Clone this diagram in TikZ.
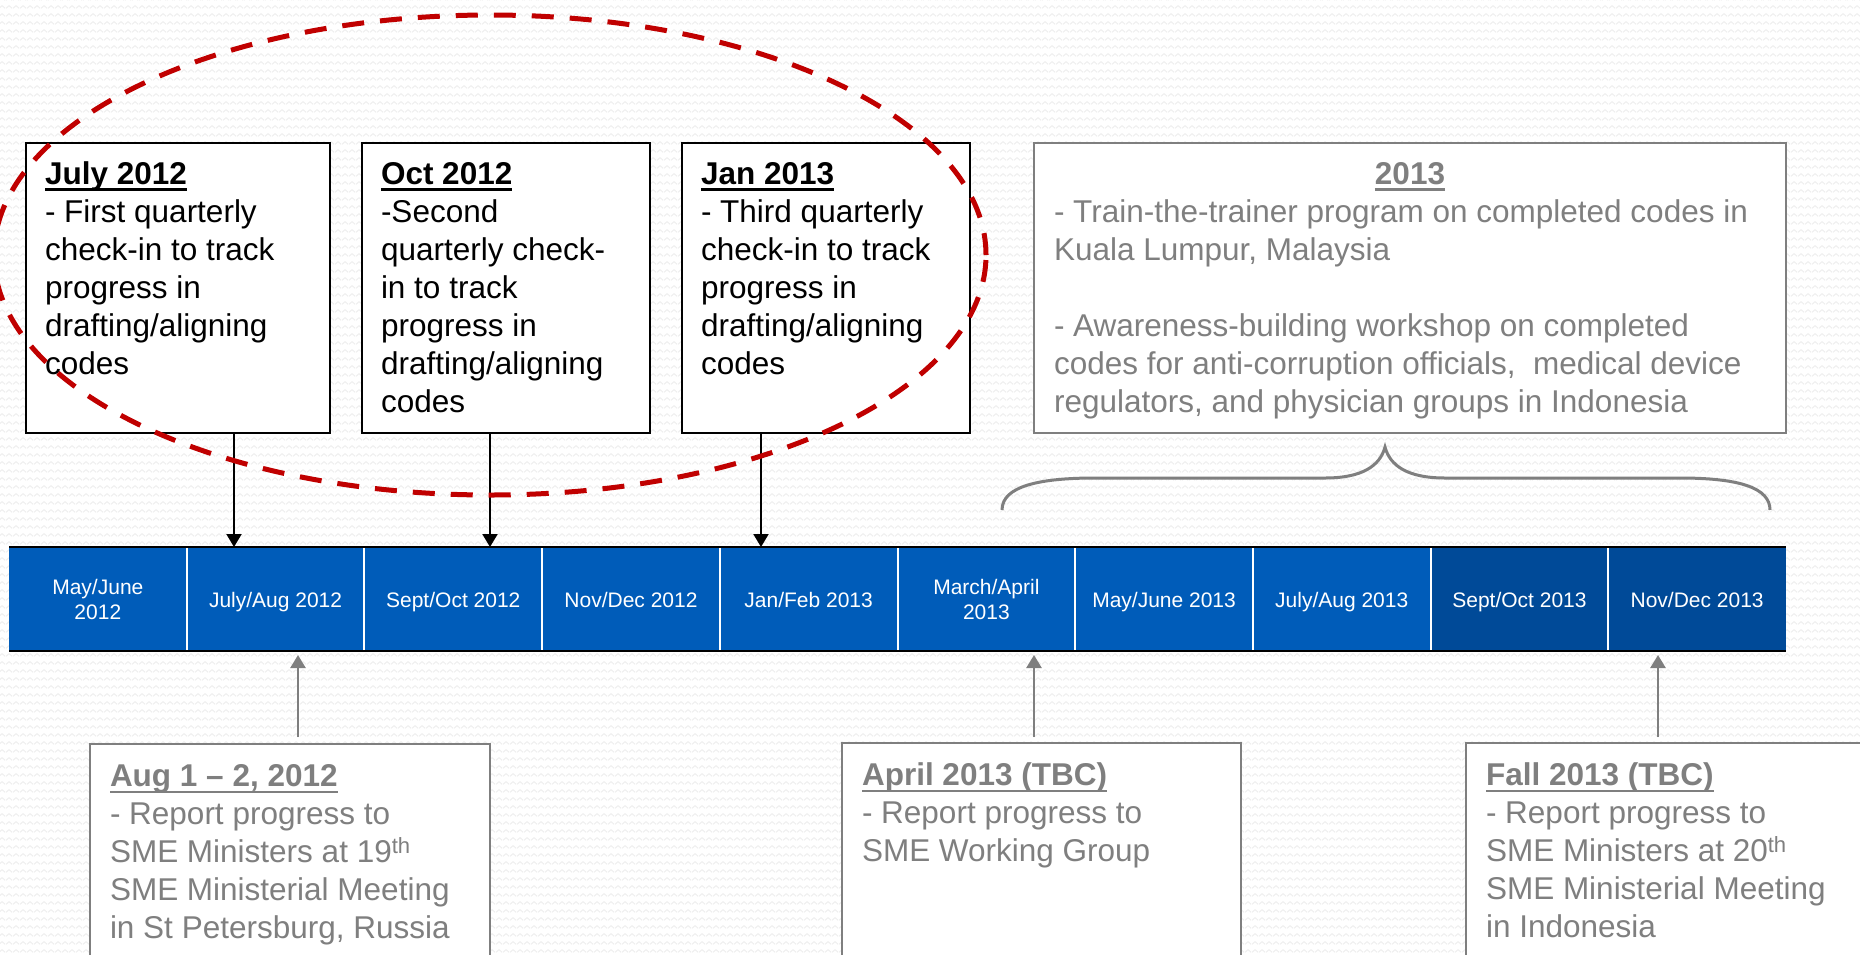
\documentclass[tikz,border=0pt]{standalone}
\usepackage{fontspec}
\setmainfont{Liberation Sans}
\usetikzlibrary{arrows.meta,patterns}
\definecolor{cellblue}{HTML}{005CB9}
\definecolor{celldark}{HTML}{004A98}
\definecolor{txtgray}{HTML}{7F7F7F}
\definecolor{ellred}{HTML}{C00000}
\definecolor{bgline}{HTML}{ECECEC}
\newcommand\myul[1]{\setbox0\hbox{#1}\leavevmode\rlap{\rule[-6.5pt]{\wd0}{2.5pt}}\box0}
\newcommand\tbx[3]{\parbox[t][#1pt][t]{#2pt}{\raggedright\strut #3}}
\pgfdeclarepatternformonly{bgwave}{\pgfpointorigin}{\pgfqpoint{7pt}{8pt}}{\pgfqpoint{7pt}{8pt}}{%
  \pgfsetlinewidth{0.9pt}%
  \pgfpathmoveto{\pgfqpoint{0pt}{3pt}}%
  \pgfpathlineto{\pgfqpoint{3.5pt}{6pt}}%
  \pgfpathlineto{\pgfqpoint{7pt}{3pt}}%
  \pgfusepath{stroke}}
\begin{document}
\begin{tikzpicture}[x=1pt,y=-1pt,
  topbox/.style={draw=black, line width=2pt, fill=white, inner xsep=19pt, inner ysep=14.4pt,
    anchor=north west, outer sep=0pt, font=\fontsize{31.5}{38}\selectfont},
  graybox/.style={topbox, draw=txtgray, text=txtgray},
  cell/.style={fill=cellblue, minimum width=177.7pt, minimum height=104pt, inner sep=0pt,
    outer sep=0pt, anchor=north west, text=white, align=center, font=\fontsize{21}{25}\selectfont},
  oneline/.style={text height=19pt, text depth=2pt},
  darkcell/.style={cell, fill=celldark},
  downarr/.style={-{Triangle[width=15pt,length=13pt]}, line width=2pt, draw=black},
  uparr/.style={-{Triangle[width=15pt,length=13pt]}, line width=2.5pt, draw=txtgray, fill=txtgray},
  bracestyle/.style={draw=txtgray, line width=3pt},
  ellstyle/.style={draw=ellred, line width=5pt, dash pattern=on 22pt off 16pt}]
\useasboundingbox (0,0) rectangle (1860,954);
\fill[white] (0,0) rectangle (1860,954);
\fill[pattern=bgwave, pattern color=bgline] (0,0) rectangle (1860,954);

% timeline bar
\node[cell] (c1) at (9,547) {May/June\\2012};
\node[cell, oneline] (c2) at (c1.north east) {July/Aug 2012};
\node[cell, oneline] (c3) at (c2.north east) {Sept/Oct 2012};
\node[cell, oneline] (c4) at (c3.north east) {Nov/Dec 2012};
\node[cell, oneline] (c5) at (c4.north east) {Jan/Feb 2013};
\node[cell] (c6) at (c5.north east) {March/April\\2013};
\node[cell, oneline] (c7) at (c6.north east) {May/June 2013};
\node[cell, oneline] (c8) at (c7.north east) {July/Aug 2013};
\node[darkcell, oneline] (c9) at (c8.north east) {Sept/Oct 2013};
\node[darkcell, oneline] (c10) at (c9.north east) {Nov/Dec 2013};
\foreach \i in {1,...,9}{\draw[white, line width=2pt] (c\i.north east) -- (c\i.south east);}
\draw[black, line width=2.5pt] (c1.north west) -- (c10.north east);
\draw[black, line width=2.5pt] (c1.south west) -- (c10.south east);

% top boxes
\node[topbox] (b1) at (26,143) {\tbx{261.2}{266}{\myul{\textbf{July 2012}}\\- First quarterly\\check-in to track\\progress in\\drafting/aligning\\codes}};
\node[topbox] (b2) at (362,143) {\tbx{261.2}{250}{\myul{\textbf{Oct 2012}}\\-Second\\quarterly check-\\in to track\\progress in\\drafting/aligning\\codes}};
\node[topbox] (b3) at (682,143) {\tbx{261.2}{250}{\myul{\textbf{Jan 2013}}\\- Third quarterly\\check-in to track\\progress in\\drafting/aligning\\codes}};
\node[graybox, inner xsep=20pt] (b4) at (1034,143) {\tbx{261.2}{712}{\makebox[712pt][c]{\myul{\textbf{2013}}}\\- Train-the-trainer program on completed codes in\\Kuala Lumpur, Malaysia\\\mbox{}\\- Awareness-building workshop on completed\\codes for anti-corruption officials,\ \ medical device\\regulators, and physician groups in Indonesia}};

% bottom boxes
\node[graybox, inner xsep=20pt, inner ysep=16pt] (aug) at (90,744) {\tbx{230}{360}{\myul{\textbf{Aug 1 – 2, 2012}}\\- Report progress to\\SME Ministers at 19\textsuperscript{th}\\SME Ministerial Meeting\\in St Petersburg, Russia}};
\node[graybox, inner xsep=20pt, inner ysep=16pt] (apr) at (842,743) {\tbx{230}{359}{\myul{\textbf{April 2013 (TBC)}}\\- Report progress to\\SME Working Group}};
\node[graybox, inner xsep=20pt, inner ysep=16pt] (fall) at (1466,743) {\tbx{230}{400}{\myul{\textbf{Fall 2013 (TBC)}}\\- Report progress to\\SME Ministers at 20\textsuperscript{th}\\SME Ministerial Meeting\\in Indonesia}};

% down arrows
\coordinate (d1) at (234,547);
\coordinate (d2) at (490,547);
\coordinate (d3) at (761,547);
\draw[downarr] (b1.south -| d1) -- (d1);
\draw[downarr] (b2.south -| d2) -- (d2);
\draw[downarr] (b3.south -| d3) -- (d3);

% up arrows
\coordinate (u1) at (298,655);
\coordinate (u2) at (1034,655);
\coordinate (u3) at (1658,655);
\draw[uparr] ([yshift=7pt]aug.north -| u1) -- (u1);
\draw[uparr] ([yshift=6pt]apr.north -| u2) -- (u2);
\draw[uparr] ([yshift=6pt]fall.north -| u3) -- (u3);

% brace
\draw[bracestyle] (1002,510) .. controls (1002,486) and (1040,478) .. (1095,478)
  -- (1325,478) .. controls (1362,478) and (1380,466) .. (1385,447)
  .. controls (1390,466) and (1408,478) .. (1445,478)
  -- (1680,478) .. controls (1740,478) and (1770,488) .. (1770,510);

% dashed ellipse
\draw[ellstyle] (490,255) ellipse [x radius=496pt, y radius=240pt];
\end{tikzpicture}
\end{document}
